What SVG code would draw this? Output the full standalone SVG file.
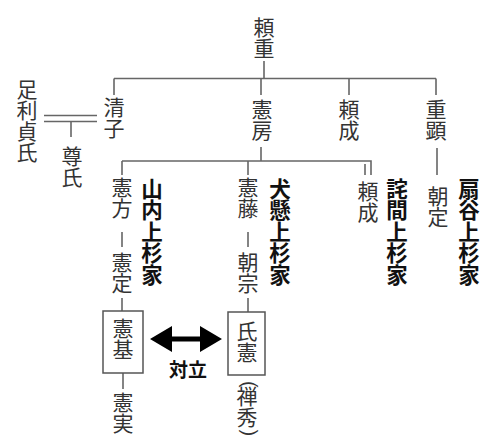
<svg xmlns="http://www.w3.org/2000/svg" width="500" height="446" viewBox="0 0 500 446">
<style>
.n{font-family:"Noto Sans CJK JP","Noto Sans CJK SC",sans-serif;font-size:21px;fill:#333;writing-mode:vertical-rl}
.b{font-family:"Noto Sans CJK JP","Noto Sans CJK SC",sans-serif;font-size:21.5px;font-weight:bold;fill:#111;writing-mode:vertical-rl}
.h{font-family:"Noto Sans CJK JP","Noto Sans CJK SC",sans-serif;font-size:19px;font-weight:bold;fill:#111;text-anchor:middle}
.p{font-family:"Liberation Sans",sans-serif;font-size:20px;fill:#333}
.c{fill:none;stroke:#666;stroke-width:1.6}
.box{fill:#fff;stroke:#555;stroke-width:1.5}
</style>
<rect width="500" height="446" fill="#fff"/>
<g id="connectors">
<path class="c" d="M264 61V78.5M114 78.5H436M114 78.5V95M261 78.5V95M349 78.5V95M436 78.5V95"/>
<path class="c" d="M44 115.5H97M44 121.5H97M71 121.5V137"/>
<path class="c" d="M261 147V161M122 161H371V175M365 164V175M122 161V175M248 161V175M437 148V175"/>
<path class="c" d="M122 232V247M248 232V247M122 298V311M248 298V312M123 373V389"/>
<path d="M150 339L172 326V336.5H200V326L222 339L200 352V341.5H172V352Z" fill="#000"/>
</g>
<g id="yorishige"><text class="n" x="264" y="17">頼重</text></g>
<g id="kiyoko"><text class="n" x="114" y="97">清子</text></g>
<g id="norifusa"><text class="n" x="262" y="99">憲房</text></g>
<g id="yorinari1"><text class="n" x="349" y="99">頼成</text></g>
<g id="shigeaki"><text class="n" x="436" y="99">重顕</text></g>
<g id="sadauji"><text class="n" x="27" y="79">足利貞氏</text></g>
<g id="takauji"><text class="n" x="72" y="146">尊氏</text></g>
<g id="norikata"><text class="n" x="122" y="177">憲方</text></g>
<g id="norisada"><text class="n" x="122" y="252">憲定</text></g>
<g id="yamanouchi"><text class="b" x="152" y="178">山内上杉家</text></g>
<g id="norifuji"><text class="n" x="248" y="177">憲藤</text></g>
<g id="tomomune"><text class="n" x="248" y="252">朝宗</text></g>
<g id="inukake"><text class="b" x="280" y="178">犬懸上杉家</text></g>
<g id="yorinari2"><text class="n" x="368" y="181">頼成</text></g>
<g id="takuma"><text class="b" x="397" y="178">詫間上杉家</text></g>
<g id="tomosada"><text class="n" x="438" y="186">朝定</text></g>
<g id="ogigayatsu"><text class="b" x="469" y="178">扇谷上杉家</text></g>
<g id="norimoto"><rect class="box" x="103" y="311" width="40" height="62"/><text class="n" x="123" y="318">憲基</text></g>
<g id="norizane"><text class="n" x="123" y="392">憲実</text></g>
<g id="ujinori"><rect class="box" x="228" y="312" width="37" height="63"/><text class="n" x="247" y="321">氏憲</text></g>
<g id="zenshu">
<text class="p" x="242.5" y="381" style="transform:rotate(90deg);transform-origin:242.5px 381px">(</text>
<text class="n" x="247" y="386">禅秀</text>
<text class="p" x="242.5" y="429.5" style="transform:rotate(90deg);transform-origin:242.5px 429.5px">)</text>
</g>
<g id="tairitsu"><text class="h" x="188" y="377">対立</text></g>
</svg>
